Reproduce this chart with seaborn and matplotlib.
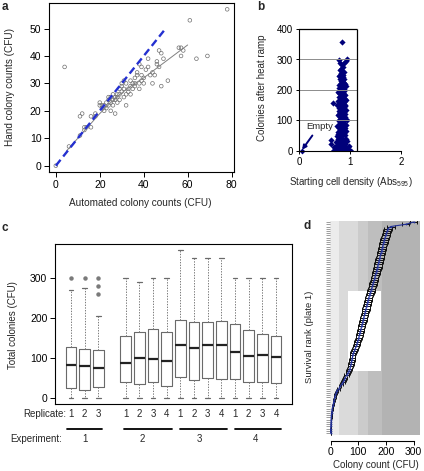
import matplotlib
matplotlib.use("Agg")
import matplotlib.pyplot as plt
import matplotlib.transforms as mtransforms
from matplotlib.patches import Rectangle
import seaborn as sns

W, H = 424, 471

# ── a : automated vs hand counts ──────────────────────────────────────────────
auto_counts = [0, 4, 6, 11, 12, 11, 13, 13, 14, 16, 16, 18, 18, 20, 20, 21, 21, 22, 22, 23,
               23, 24, 24, 24, 25, 25, 25, 26, 26, 26, 27, 27, 27, 28, 28, 28, 29, 29, 29, 30,
               30, 30, 31, 31, 31, 32, 32, 32, 33, 33, 34, 34, 34, 35, 35, 36, 36, 36, 37, 37,
               38, 38, 38, 39, 39, 39, 40, 40, 41, 42, 42, 43, 44, 44, 45, 46, 46, 47, 47, 48,
               48, 49, 51, 56, 57, 57, 58, 61, 64, 69, 78]
hand_counts = [0, 36, 7, 18, 19, 11, 14, 13, 14, 14, 18, 18, 19, 23, 22, 21, 22, 22, 20, 21,
               23, 25, 24, 22, 23, 20, 25, 24, 22, 26, 19, 24, 25, 26, 25, 23, 28, 24, 26, 29,
               30, 27, 25, 31, 28, 22, 26, 30, 28, 27, 31, 29, 26, 28, 30, 30, 29, 32, 34, 33,
               37, 28, 30, 36, 31, 33, 30, 32, 35, 39, 36, 33, 34, 30, 33, 37, 38, 36, 42, 41,
               29, 39, 31, 43, 43, 40, 42, 53, 39, 40, 57]
fit_auto = [5, 15, 20, 25, 30, 35, 40, 45, 50, 55, 60]
fit_hand = [5.5, 14.5, 19, 23, 26.5, 29.5, 32, 35, 38, 41, 44]
identity = [0, 50]

# ── b : colonies vs starting density ──────────────────────────────────────────
density = [0.85, 0.78, 0.81, 0.88, 0.93, 0.95, 0.84, 0.80, 0.85, 0.83,
           0.87, 0.79, 0.84, 0.88, 0.82, 0.86, 0.90, 0.78, 0.83, 0.87,
           0.92, 0.80, 0.85, 0.89, 0.76, 0.82, 0.86, 0.91, 0.79, 0.84,
           0.88, 0.93, 0.77, 0.81, 0.86, 0.90, 0.75, 0.80, 0.84, 0.89,
           0.93, 0.78, 0.82, 0.87, 0.91, 0.76, 0.80, 0.85, 0.89, 0.94,
           0.78, 0.83, 0.87, 0.92, 0.75, 0.80, 0.84, 0.89, 0.93, 0.77,
           0.82, 0.86, 0.91, 0.74, 0.79, 0.84, 0.88, 0.95, 0.72, 0.77,
           0.82, 0.86, 0.91, 0.96, 0.70, 0.75, 0.80, 0.85, 0.90, 0.66,
           0.70, 0.94, 0.99, 1.02, 0.97, 0.68, 0.66, 0.62, 0.63,
           0.82, 0.86, 0.88, 0.81, 0.86, 0.80, 0.85, 0.88, 0.82, 0.85,
           0.79, 0.88, 0.83, 0.79, 0.88, 0.84, 0.81, 0.87, 0.91, 0.83,
           0.79, 0.88, 0.84, 0.82, 0.87, 0.91, 0.79, 0.85, 0.80, 0.89,
           0.84, 0.78, 0.87, 0.82, 0.91, 0.79, 0.86, 0.81, 0.89, 0.84,
           0.78, 0.87, 0.91, 0.81, 0.86, 0.80, 0.89, 0.84, 0.77, 0.81,
           0.86, 0.90, 0.93, 0.79, 0.84, 0.88, 0.92, 0.73, 0.78, 0.83,
           0.87, 0.76, 0.90, 0.80]
colonies = [357, 299, 290, 288, 296, 301, 282, 265, 262, 255,
            250, 245, 240, 236, 230, 226, 220, 218, 214, 210,
            212, 205, 200, 196, 195, 190, 186, 182, 178, 174,
            170, 166, 165, 160, 156, 152, 150, 146, 142, 138,
            134, 132, 128, 124, 120, 117, 112, 108, 104, 100,
            97, 93, 89, 85, 82, 78, 74, 70, 66, 63,
            59, 55, 51, 48, 44, 40, 36, 32, 30, 26,
            22, 18, 14, 12, 10, 7, 4, 2, 0, 0,
            2, 3, 15, 0, 5, 12, 156, 35, 24,
            270, 275, 258, 250, 244, 235, 232, 224, 222, 216,
            208, 204, 198, 190, 188, 182, 176, 178, 172, 168,
            160, 160, 154, 148, 144, 146, 140, 134, 128, 128,
            120, 122, 114, 106, 110, 102, 98, 88, 92, 84,
            76, 78, 74, 68, 64, 54, 58, 50, 38, 34,
            28, 24, 40, 16, 10, 6, 8, 18, 0, 0,
            12, 56, 36, 92]
empty_density = [0.06]
empty_colonies = [0]
b_grid = [100, 200, 300]
b_ticks_y = [0, 100, 200, 300, 400]
b_ticks_x = [0, 1, 2]

# ── c : replicate box plots ───────────────────────────────────────────────────
c_pos = [1, 2, 3, 5, 6, 7, 8, 9, 10, 11, 12, 13, 14, 15, 16]
c_rep = ["1", "2", "3", "1", "2", "3", "4", "1", "2", "3", "4", "1", "2", "3", "4"]
c_whislo = [0] * 15
c_q1 = [26, 21, 27, 39, 35, 39, 31, 53, 45, 50, 48, 48, 41, 41, 37]
c_med = [83, 79, 74, 88, 101, 97, 92, 132, 126, 133, 132, 115, 106, 107, 102]
c_q3 = [127, 123, 119, 156, 165, 172, 165, 196, 191, 190, 192, 186, 171, 160, 154]
c_whishi = [270, 275, 205, 300, 290, 300, 300, 370, 350, 350, 350, 300, 300, 300, 300]
c_fliers = [[300], [300], [260, 280, 300], [], [], [], [], [], [], [], [], [], [], [], []]
exp_names = ["1", "2", "3", "4"]
exp_span = [(0.7, 3.3), (4.9, 8.4), (9.0, 12.4), (13.0, 16.4)]
exp_label_x = [2, 6.2, 10.4, 14.5]

# ── d : survival rank ─────────────────────────────────────────────────────────
d_count = [0, 0, 0, 1, 1, 2, 2, 3, 3, 4,
           5, 6, 8, 10, 11, 13, 15, 17, 20, 22,
           30, 34, 40, 45, 49, 53, 58, 62, 66, 70,
           72, 74, 75, 77, 79, 80, 82, 86, 89, 92,
           95, 97, 100, 102, 104, 106, 108, 110, 112, 114,
           116, 118, 120, 122, 124, 126, 128, 130, 132, 134,
           136, 138, 141, 143, 146, 148, 151, 153, 155, 158,
           160, 162, 164, 166, 168, 170, 172, 174, 176, 178,
           180, 182, 184, 186, 188, 190, 192, 194, 197, 199,
           202, 205, 207, 217, 271, 300]
d_err = [0, 0, 0, 0.5, 0.5, 0.5, 1, 1, 1, 1,
         1.5, 1.5, 2, 2, 2, 2.5, 3, 3, 3, 4,
         5, 5, 6, 6, 7, 7, 8, 8, 9, 9,
         9, 10, 10, 10, 10, 10, 10, 11, 11, 11,
         11, 11, 11, 11, 12, 12, 12, 12, 12, 12,
         12, 12, 12, 12, 12, 12, 13, 13, 13, 13,
         13, 13, 13, 13, 13, 13, 13, 13, 13, 13,
         13, 13, 14, 14, 14, 14, 14, 14, 14, 14,
         14, 14, 14, 14, 14, 14, 14, 14, 14, 14,
         14, 14, 14, 14, 12, 12]
d_rank = list(range(1, len(d_count) + 1))
band_lo = [-2, 30, 98, 134, 185]
band_hi = [30, 98, 134, 185, 323]
band_colors = ["#ececec", "#dadada", "#cbcbcb", "#bebebe", "#b3b3b3"]

sns.set_theme(style="ticks")
plt.rcParams["font.family"] = ["Liberation Sans", "DejaVu Sans"]
plt.rcParams["mathtext.fontset"] = "custom"
plt.rcParams["mathtext.rm"] = "Liberation Sans"
plt.rcParams["font.size"] = 7
plt.rcParams["axes.linewidth"] = 0.8
plt.rcParams["axes.edgecolor"] = "black"

fig = plt.figure(figsize=(W / 100, H / 100), dpi=100)
fig.patch.set_facecolor("white")


def px_axes(left, top, right, bottom):
    return fig.add_axes([left / W, 1 - bottom / H, (right - left) / W, (bottom - top) / H])


def ftext(x, y, s, **kw):
    fig.text(x / W, 1 - y / H, s, **kw)


# ── panel a ──
ax_a = px_axes(49, 3, 234, 172)
sns.lineplot(x=fit_auto, y=fit_hand, ax=ax_a, color="#808080", linewidth=0.7)
sns.lineplot(x=identity, y=identity, ax=ax_a, color="#2430d0", linewidth=1.7,
             linestyle=(0, (3.2, 1.8)))
sns.scatterplot(x=auto_counts, y=hand_counts, ax=ax_a, marker="o", s=7,
                facecolors="none", edgecolor="#707070", linewidth=0.5)
ax_a.set_xlim(-3.1, 81.1)
ax_a.set_ylim(-2.3, 59.3)
ax_a.set_xticks([0, 20, 40, 60, 80])
ax_a.set_yticks([0, 10, 20, 30, 40, 50])
ax_a.tick_params(direction="out", length=3.5, width=0.7, labelsize=7.5, pad=2, colors="black")
ftext(140, 203, "Automated colony counts (CFU)", ha="center", va="center", fontsize=7.2)
ftext(10, 87, "Hand colony counts (CFU)", ha="center", va="center", rotation=90, fontsize=7.2)

# ── panel b ──
ax_b = px_axes(299, 29, 401, 151)
box_right = 1.14
ax_b.hlines(b_grid, 0, box_right, color="#8c8c8c", linewidth=0.7)
ax_b.hlines(b_ticks_y[-1], 0, box_right, color="black", linewidth=0.9, clip_on=False)
ax_b.vlines(box_right, 0, b_ticks_y[-1], color="black", linewidth=0.9, clip_on=False)
sns.scatterplot(x=density, y=colonies, ax=ax_b, marker="D", s=10, color="#00007a", linewidth=0)
sns.scatterplot(x=empty_density, y=empty_colonies, ax=ax_b, marker="D", s=9,
                color="#00007a", linewidth=0, clip_on=False)
ax_b.annotate("Empty", xy=(empty_density[0], empty_colonies[0] + 4), xytext=(0.14, 80),
              fontsize=6.8, ha="left", va="center",
              arrowprops=dict(arrowstyle="-|>", color="#00007a", lw=1.4,
                              mutation_scale=6, relpos=(0.35, 0.0), shrinkA=1, shrinkB=0))
ax_b.set_xlim(0, 2)
ax_b.set_ylim(0, 400)
ax_b.set_xticks(b_ticks_x)
ax_b.set_yticks(b_ticks_y)
for side in ("top", "right"):
    ax_b.spines[side].set_visible(False)
ax_b.tick_params(direction="out", length=2.5, width=0.7, labelsize=7, pad=2, colors="black")
ftext(262, 88, "Colonies after heat ramp", ha="center", va="center", rotation=90, fontsize=7)
ftext(351, 182, "Starting cell density (Abs$_{595}$)", ha="center", va="center", fontsize=7)

# ── panel c ──
ax_c = px_axes(55, 244, 292, 404)
stats = [dict(whislo=lo, q1=a, med=m, q3=b, whishi=hi, fliers=f)
         for lo, a, m, b, hi, f in zip(c_whislo, c_q1, c_med, c_q3, c_whishi, c_fliers)]
ax_c.bxp(stats, positions=c_pos, widths=0.8, capwidths=0.32, showfliers=True,
         boxprops=dict(color="#6a6a6a", linewidth=0.8),
         medianprops=dict(color="#222222", linewidth=1.6),
         whiskerprops=dict(color="#7a7a7a", linewidth=0.7, linestyle=(0, (1.4, 1.4))),
         capprops=dict(color="#6a6a6a", linewidth=0.9),
         flierprops=dict(marker="o", markersize=2.2, markerfacecolor="#7a7a7a",
                         markeredgecolor="#7a7a7a"))
ax_c.set_xlim(-0.17, 17.17)
ax_c.set_ylim(-14.8, 384.8)
ax_c.set_xticks([])
ax_c.set_yticks([0, 100, 200, 300])
ax_c.tick_params(axis="y", direction="out", length=3.5, width=0.7, labelsize=7.5, pad=2,
                 colors="black")
trans = mtransforms.blended_transform_factory(ax_c.transData, ax_c.transAxes)
ax_c.text(0.65, -0.061, "Replicate:", transform=trans, ha="right", va="center", fontsize=7)
for p, r in zip(c_pos, c_rep):
    ax_c.text(p, -0.061, r, transform=trans, ha="center", va="center", fontsize=7)
for (a, b) in exp_span:
    ax_c.plot([a, b], [-0.154, -0.154], transform=trans, clip_on=False, color="black", lw=1.3)
ax_c.text(0.35, -0.219, "Experiment:", transform=trans, ha="right", va="center", fontsize=7)
for x, name in zip(exp_label_x, exp_names):
    ax_c.text(x, -0.219, name, transform=trans, ha="center", va="center", fontsize=7)
ftext(13, 325, "Total colonies (CFU)", ha="center", va="center", rotation=90, fontsize=7)

# ── panel d ──
ax_d = px_axes(330, 221, 420, 435)
for lo, hi, col in zip(band_lo, band_hi, band_colors):
    ax_d.axvspan(lo, hi, color=col, lw=0, zorder=0)
ax_d.add_patch(Rectangle((64, 29), 118, 36, facecolor="white", lw=0, zorder=0.5))
ax_d.errorbar(d_count, d_rank, xerr=d_err, fmt="none", ecolor="#111111",
              elinewidth=0.7, capsize=1.6, capthick=0.7, zorder=2)
sns.lineplot(x=d_count, y=d_rank, ax=ax_d, color="#23329a", linewidth=0.8, marker="o",
             markersize=1.3, markeredgewidth=0, sort=False, estimator=None, zorder=3)
ax_d.set_xlim(-2, 323)
ax_d.set_ylim(0.1, 96.5)
ax_d.set_xticks([0, 100, 200, 300])
ax_d.set_yticks(d_rank)
ax_d.set_yticklabels([])
for side in ("top", "right", "left"):
    ax_d.spines[side].set_visible(False)
ax_d.spines["bottom"].set_position(("outward", 4))
ax_d.spines["bottom"].set_bounds(0, 300)
ax_d.tick_params(axis="x", direction="out", length=3, width=0.7, labelsize=7.5, pad=1.5,
                 colors="black")
ax_d.tick_params(axis="y", direction="out", length=3, width=0.4, colors="#555555")
ftext(376, 465, "Colony count (CFU)", ha="center", va="center", fontsize=7)
ftext(310, 337, "Survival rank (plate 1)", ha="center", va="center", rotation=90, fontsize=6.8)

# ── panel letters ──
for x, y, s in [(5, 7, "a"), (261, 7, "b"), (5, 228, "c"), (307, 226, "d")]:
    ftext(x, y, s, ha="center", va="center", fontsize=8.5, fontweight="bold")

fig.savefig("out.png", dpi=100, facecolor="white")
